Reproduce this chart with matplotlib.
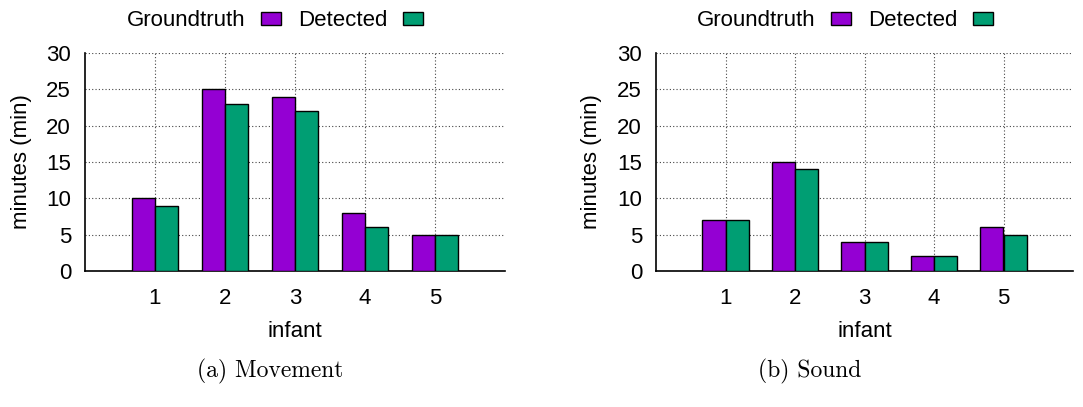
import matplotlib
matplotlib.use("Agg")
import matplotlib.pyplot as plt
import numpy as np

infants = [1, 2, 3, 4, 5]
movement_truth = [10, 25, 24, 8, 5]
movement_detected = [9, 23, 22, 6, 5]
sound_truth = [7, 15, 4, 2, 6]
sound_detected = [7, 14, 4, 2, 5]
yticks = [0, 5, 10, 15, 20, 25, 30]
series_names = ["Groundtruth", "Detected"]
captions = ["(a) Movement", "(b) Sound"]

PURPLE = "#9400D3"
GREEN = "#009E73"

plt.rcParams["font.family"] = ["Liberation Sans", "DejaVu Sans"]
plt.rcParams["font.size"] = 16

W, H = 1083, 407
fig = plt.figure(figsize=(W / 100, H / 100), dpi=100)


def px_axes(x0, x1, y0, y1):
    return fig.add_axes([x0 / W, 1 - y1 / H, (x1 - x0) / W, (y1 - y0) / H])


# (axes pixel box, truth, detected, legend centre x, ylabel right edge x, caption centre x)
panels = [
    ((85, 505, 53, 271), movement_truth, movement_detected, 275, 32, 270),
    ((656, 1073, 53, 271), sound_truth, sound_detected, 845, 602, 810),
]

bw = 1 / 3
for i, (box, truth, det, leg_cx, ylab_x, cap_x) in enumerate(panels):
    x0, x1, y0, y1 = box
    ax = px_axes(x0, x1, y0, y1)
    x = np.array(infants, dtype=float)
    b1 = ax.bar(x - bw / 2, truth, width=bw, color=PURPLE, edgecolor="black",
                linewidth=1, label=series_names[0], zorder=3)
    b2 = ax.bar(x + bw / 2, det, width=bw, color=GREEN, edgecolor="black",
                linewidth=1, label=series_names[1], zorder=3)
    ax.set_xlim(0, 6)
    ax.set_ylim(0, 30)
    ax.set_yticks(yticks)
    ax.set_xticks(infants)
    ax.grid(True, linestyle=(0, (1, 2)), color="#444444", linewidth=0.8, zorder=0)
    for s in ("top", "right"):
        ax.spines[s].set_visible(False)
    ax.spines["left"].set_linewidth(1.2)
    ax.spines["bottom"].set_linewidth(1.2)
    ax.tick_params(length=0, labelsize=16, pad=10)
    ax.tick_params(axis="x", pad=12)
    ax.set_ylabel("minutes (min)", fontsize=16)
    ax.yaxis.set_label_coords((ylab_x - x0) / (x1 - x0), 0.5)
    ax.set_xlabel("infant", fontsize=16, labelpad=9)
    fig.legend(handles=[b1, b2], labels=series_names, loc="center",
               bbox_to_anchor=(leg_cx / W, 1 - 21 / H), ncol=2, frameon=False,
               markerfirst=False, handlelength=0.9, handleheight=0.5,
               handletextpad=0.68, columnspacing=0.8, fontsize=16)
    fig.text(cap_x / W, 1 - 371 / H, captions[i], ha="center", va="center",
             fontsize=17, family="cmr10")

fig.savefig("out.png", dpi=100)
